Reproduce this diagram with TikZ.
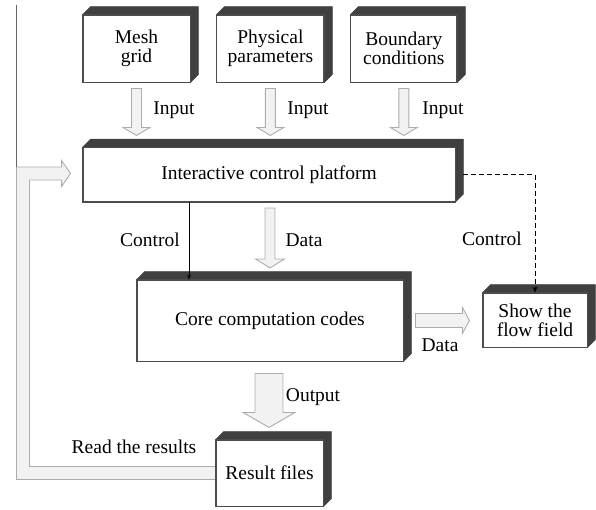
\documentclass[tikz,border=0pt]{standalone}
\usepackage{fontspec}
\setmainfont{Liberation Serif}
\usetikzlibrary{arrows.meta, positioning, calc}
\tikzstyle{block} = [rectangle, draw=black!70, fill=white, line width=0.9pt, inner sep=0pt, align=center]
\tikzstyle{face} = [fill=black!75, draw=black!75, line width=0.5pt]
\tikzstyle{hollow} = [fill=gray!10, draw=gray!65, line width=0.9pt]
\tikzstyle{lbl} = [inner sep=0pt]

% block arrows: start, half shaft, half head, length, head length
\newcommand{\dnarrow}[5]{\filldraw[hollow] (#1) ++({-#2},0) -- ++(0,{#4-#5}) -- ++({#2-#3},0) -- ++(#3,#5) -- ++(#3,{-#5}) -- ++({#2-#3},0) -- ++(0,{#5-#4}) -- cycle;}
\newcommand{\rtarrow}[5]{\filldraw[hollow] (#1) ++(0,{-#2}) -- ++({#4-#5},0) -- ++(0,{#2-#3}) -- ++(#5,#3) -- ++({-#5},#3) -- ++(0,{#2-#3}) -- ++({#5-#4},0) -- cycle;}

\begin{document}
\begin{tikzpicture}[x=1pt, y=-1pt, font=\fontsize{19.5}{19}\selectfont]
		\useasboundingbox (0,0) rectangle (596,509);
		
		\node [block, minimum width=107pt, minimum height=67pt] (mesh) at (136.5,48.5) {Mesh\\grid};
		\node [block, minimum width=107pt, minimum height=67pt, right=26pt of mesh] (phys) {Physical\\parameters};
		\node [block, minimum width=106pt, minimum height=67pt, right=26pt of phys] (bound) {Boundary\\conditions};
		
		\node [block, minimum width=372pt, minimum height=54pt] (icp) at (269,174.5) {Interactive control platform};
		\node [block, minimum width=266pt, minimum height=81pt] (core) at (270,320.5) {Core computation codes};
		\node [block, minimum width=104pt, minimum height=54pt] (show) at (535,320) {Show the\\flow field};
		\node [block, minimum width=107pt, minimum height=66pt] (res) at (269.5,473) {Result files};
		
		% hollow arrows
		\dnarrow{$(mesh.south)+(0,6)$}{5}{13.5}{47}{8}
		\dnarrow{$(phys.south)+(0,6)$}{5}{13.5}{47}{8}
		\dnarrow{$(bound.south)+(0,6)$}{5}{13.5}{47}{8}
		\dnarrow{$(icp.south)+(1,6)$}{5}{14.5}{60}{9}
		\dnarrow{$(core.south)+(-1,12)$}{14}{26}{54}{15}
		\rtarrow{$(core.east)+(12,0)$}{7}{13}{54}{7}
		
		\coordinate (fb) at (23,0);
		\coordinate (tip) at ($(icp.west)+(-12,-1)$);
		\filldraw[hollow] ($(res.west)+(0,6.5)$) -- ($(fb |- res.west)+(-6.5,6.5)$) -- ($(fb |- tip)+(-6.5,-6.5)$)
			-- ($(tip)+(-9,-6.5)$) -- ($(tip)+(-9,-13)$) -- (tip) -- ($(tip)+(-9,13)$) -- ($(tip)+(-9,6.5)$)
			-- ($(fb |- tip)+(6.5,6.5)$) -- ($(fb |- res.west)+(6.5,-6.5)$) -- ($(res.west)+(0,-6.5)$);
		\draw[black!60, line width=0.9pt] ($(fb |- tip)+(-6.5,-6.5)$) -- ($(fb)+(-6.5,5)$);
		
		% 3d faces
		\foreach \n in {mesh,phys,bound,icp,core,show,res} {
			\filldraw[face] (\n.north west) -- ++(8,-8) -- ([shift={(8,-8)}]\n.north east) -- ([shift={(8,-8)}]\n.south east) -- (\n.south east) -- (\n.north east) -- cycle;
			\draw[black!70, line width=0.9pt] (\n.north west) rectangle (\n.south east);
		}
		
		\coordinate (ctl) at (189,0);
		\draw[-{Stealth[length=5pt,width=4pt]}, line width=0.6pt] (icp.south -| ctl) -- (core.north -| ctl);
		\draw[dashed, dash pattern=on 5pt off 3pt, line width=0.8pt, -{Stealth[length=6pt,width=5pt]}] ($(icp.east)+(8,0)$) -| (show.north);
		
		\node[lbl] (in1) at (174,110) {Input};
		\node[lbl] (in2) at (308,110) {Input};
		\node[lbl] (in3) at (443,110) {Input};
		\node[lbl] (ctl1) at (150,240) {Control};
		\node[lbl] (dat1) at (304,240) {Data};
		\node[lbl] (ctl2) at (492,239) {Control};
		\node[lbl] (dat2) at (440,345) {Data};
		\node[lbl] (out) at (313,397) {Output};
		\node[lbl] (read) at (134,447) {Read the results};
		
	\end{tikzpicture}
\end{document}
